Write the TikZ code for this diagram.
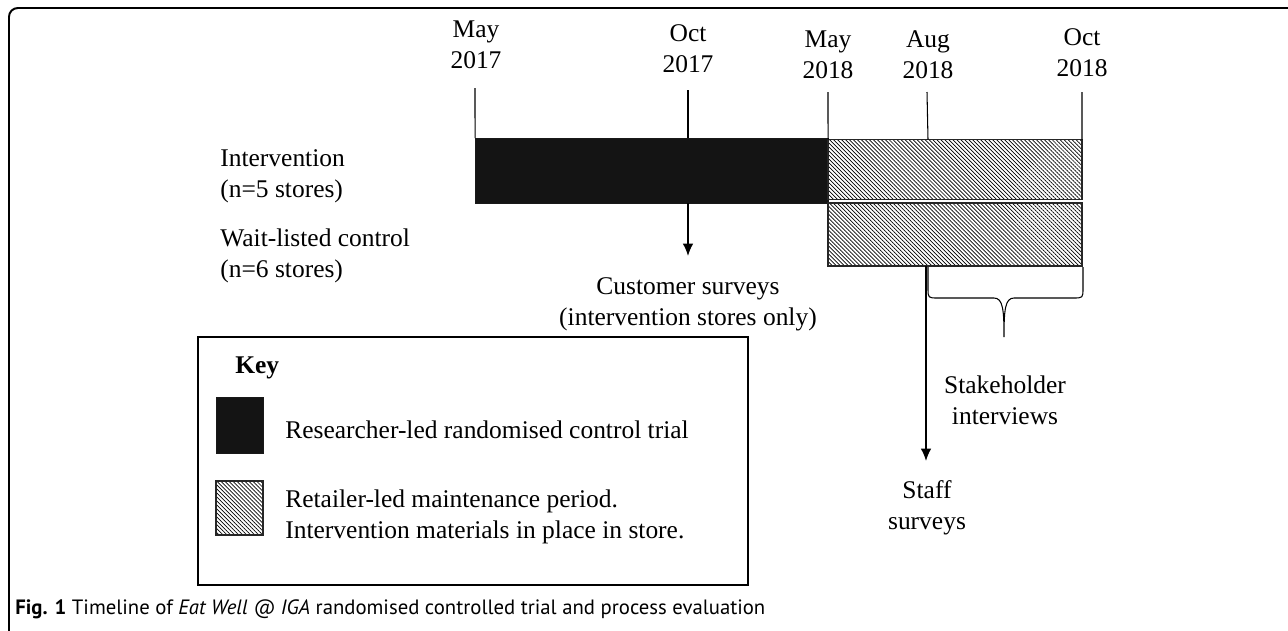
\documentclass[tikz,border=0pt]{standalone}
\usepackage{fontspec}
\setmainfont{Liberation Serif}
\newfontfamily\capfont{PT Sans}
\usetikzlibrary{arrows.meta,patterns.meta,positioning}

\begin{document}
\begin{tikzpicture}[x=0.02cm,y=-0.02cm]
	\tikzstyle{Lbl}		= [font=\fontsize{14.5}{17.5}\selectfont, align=center, inner sep=0pt]
	\tikzstyle{LeftLbl}	= [Lbl, align=left, anchor=base west]
	\tikzstyle{Bar}		= [rectangle, inner sep=0pt, outer sep=0pt]
	\tikzstyle{RCT}		= [Bar, draw=black!90, fill=black!92, line width=0.5pt]
	\tikzstyle{Maint}	= [Bar, draw=black!85, line width=0.9pt, pattern={Lines[angle=-45, distance=1.6pt, line width=0.4pt]}]
	\tikzstyle{Tick}	= [line width=0.6pt]
	\tikzstyle{Arr}		= [line width=0.9pt, -{Latex[length=7pt, width=6pt]}]

	\useasboundingbox (0,0) rectangle (1288,630);
	\draw [line width=1.1pt, rounded corners=5pt] (9,634) -- (9,8) -- (1292,8);

	% dates
	\node (may17) at (476,45) [Lbl] {May\\2017};
	\node (oct17) at (688,49) [Lbl] {Oct\\2017};
	\node (may18) at (828,55) [Lbl] {May\\2018};
	\node (aug18) at (928,55) [Lbl] {Aug\\2018};
	\node (oct18) at (1082,53) [Lbl] {Oct\\2018};

	% groups
	\node (intv) at (220,197) [LeftLbl] {Intervention\\(n=5 stores)};
	\node (wait) at (220,277) [LeftLbl] {Wait-listed control\\(n=6 stores)};

	% bars
	\node (rct) at (651.5,170.5) [RCT, minimum width=7.06cm, minimum height=1.3cm] {};
	\node (hat1) at (955,169.5) [Maint, minimum width=5.08cm, minimum height=1.2cm] {};
	\node (hat2) at (955,234.5) [Maint, minimum width=5.08cm, minimum height=1.26cm] {};

	\draw [Tick] (475,88) -- (rct.north west);
	\draw [Tick] (688,90) -- (oct17 |- rct.north);
	\draw [Tick] (828,92) -- (hat1.north west);
	\draw [Tick] (927,92) -- (aug18 |- hat1.north);
	\draw [Tick] (1082,92) -- (hat1.north east);

	% surveys
	\node (cust) at (688,304) [Lbl] {Customer surveys\\(intervention stores only)};
	\coordinate (custtip) at (688,256);
	\draw [Arr] (oct17 |- rct.south) -- (custtip);

	\node (staff) at (927,508) [Lbl] {Staff\\surveys};
	\coordinate (stafftip) at (926,461);
	\draw [Arr] (926,266) -- (stafftip);

	\draw [line width=0.6pt] (928,267) -- (928,288) .. controls (928,298) .. (938,298) -- (994,298)
		.. controls (1003,298) and (1004,310) .. (1004,337)
		.. controls (1004,310) and (1005,298) .. (1014,298) -- (1073,298)
		.. controls (1083,298) .. (1083,288) -- (1083,267);
	\node (stake) at (1005,400) [Lbl] {Stakeholder\\interviews};

	% key
	\draw [line width=1pt] (198,337) rectangle (748,585);
	\node (key) at (235,373) [LeftLbl, font=\fontsize{14.5}{17.5}\selectfont\bfseries] {Key};
	\node (keyrct) at (239.5,425) [RCT, minimum width=0.94cm, minimum height=1.12cm] {};
	\node (keyhat) at (239.5,508) [Maint, minimum width=0.94cm, minimum height=1.08cm] {};
	\node (rcttxt) at (285,438) [LeftLbl] {Researcher-led randomised control trial};
	\node (hattxt) at (285,538) [LeftLbl] {Retailer-led maintenance period.\\Intervention materials in place in store.};

	% caption
	\node (cap) at (15,614) [anchor=base west, inner sep=0pt, font=\capfont\fontsize{11.8}{13}\selectfont] {\textbf{Fig. 1} Timeline of \textit{Eat Well @ IGA} randomised controlled trial and process evaluation};
\end{tikzpicture}
\end{document}
